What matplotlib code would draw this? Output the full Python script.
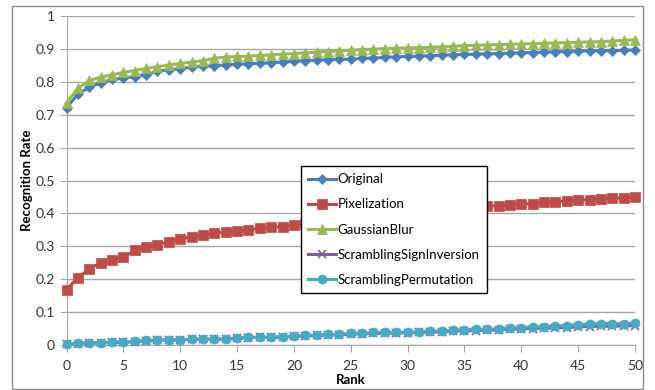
import matplotlib
matplotlib.use("Agg")
import matplotlib.pyplot as plt
from matplotlib.patches import Rectangle

plt.rcParams['font.family'] = ['Lato', 'DejaVu Sans']

rank = list(range(51))

original = [0.720, 0.763, 0.783, 0.797, 0.807, 0.811, 0.816, 0.821, 0.832, 0.837,
            0.839, 0.845, 0.847, 0.849, 0.851, 0.853, 0.855, 0.856, 0.858, 0.860,
            0.862, 0.864, 0.866, 0.867, 0.868, 0.869, 0.871, 0.872, 0.874, 0.876,
            0.877, 0.878, 0.879, 0.881, 0.882, 0.883, 0.884, 0.885, 0.886, 0.887,
            0.888, 0.889, 0.890, 0.891, 0.892, 0.893, 0.894, 0.894, 0.895, 0.896,
            0.897]
pixelization = [0.168, 0.205, 0.231, 0.250, 0.258, 0.266, 0.288, 0.297, 0.304, 0.314,
                0.322, 0.328, 0.335, 0.340, 0.343, 0.345, 0.350, 0.355, 0.358, 0.360,
                0.366, 0.369, 0.372, 0.375, 0.378, 0.381, 0.384, 0.387, 0.390, 0.393,
                0.396, 0.399, 0.402, 0.405, 0.409, 0.413, 0.417, 0.422, 0.424, 0.427,
                0.428, 0.430, 0.434, 0.436, 0.437, 0.440, 0.442, 0.444, 0.446, 0.448,
                0.450]
gaussian_blur = [0.736, 0.780, 0.804, 0.814, 0.821, 0.829, 0.834, 0.841, 0.846, 0.851,
                 0.856, 0.860, 0.864, 0.872, 0.875, 0.877, 0.878, 0.880, 0.882, 0.884,
                 0.886, 0.888, 0.890, 0.892, 0.894, 0.896, 0.898, 0.899, 0.901, 0.902,
                 0.903, 0.904, 0.905, 0.906, 0.908, 0.910, 0.911, 0.912, 0.913, 0.914,
                 0.915, 0.916, 0.917, 0.918, 0.919, 0.920, 0.921, 0.922, 0.924, 0.926,
                 0.928]
scrambling_permutation = [0.003, 0.005, 0.007, 0.007, 0.009, 0.009, 0.011, 0.014, 0.016, 0.016,
                          0.016, 0.018, 0.018, 0.018, 0.019, 0.022, 0.023, 0.024, 0.024, 0.025,
                          0.028, 0.029, 0.031, 0.032, 0.033, 0.035, 0.036, 0.038, 0.039, 0.039,
                          0.039, 0.040, 0.042, 0.043, 0.045, 0.047, 0.048, 0.048, 0.049, 0.052,
                          0.053, 0.055, 0.056, 0.058, 0.059, 0.062, 0.064, 0.065, 0.065, 0.065,
                          0.066]
scrambling_sign_inversion = [0.002, 0.004, 0.006, 0.006, 0.008, 0.008, 0.010, 0.012, 0.014, 0.015,
                             0.015, 0.017, 0.017, 0.017, 0.018, 0.020, 0.022, 0.023, 0.023, 0.024,
                             0.026, 0.027, 0.029, 0.030, 0.031, 0.033, 0.034, 0.035, 0.036, 0.036,
                             0.037, 0.038, 0.039, 0.040, 0.042, 0.043, 0.044, 0.045, 0.046, 0.048,
                             0.049, 0.050, 0.051, 0.052, 0.053, 0.055, 0.056, 0.057, 0.057, 0.058,
                             0.059]

W, H = 655, 390
fig = plt.figure(figsize=(W / 100, H / 100), dpi=100)
ax = fig.add_axes([66.5 / W, 1 - 345 / H, (635 - 66.5) / W, (345 - 16) / H])

# outer chart frame
fig.patches.append(Rectangle((12 / W, 1 / H), (643 - 12) / W, (384 - 1) / H,
                             transform=fig.transFigure, fill=False,
                             edgecolor='#8c8c8c', linewidth=1.0))

series = [
    ("Original", original, '#4a7ebb', 'D', 5),
    ("Pixelization", pixelization, '#be4b48', 's', 6.5),
    ("GaussianBlur", gaussian_blur, '#98b954', '^', 7),
    ("ScramblingSignInversion", scrambling_sign_inversion, '#7d60a0', 'x', 6),
    ("ScramblingPermutation", scrambling_permutation, '#46aac5', 'o', 6.5),
]
for name, vals, color, marker, ms in series:
    ax.plot(rank, vals, color=color, marker=marker, markersize=ms, linewidth=2.2,
            markeredgewidth=1.2 if marker == 'x' else 0.5, markeredgecolor=color,
            label=name, clip_on=False, zorder=3)

ax.set_xlim(0, 50)
ax.set_ylim(0, 1)
ax.set_xticks(range(0, 51, 5))
ax.set_yticks([i / 10 for i in range(11)])
ax.set_yticklabels(['0', '0.1', '0.2', '0.3', '0.4', '0.5', '0.6', '0.7', '0.8', '0.9', '1'])
ax.grid(axis='y', color='#a6a6a6', linewidth=1.0)
ax.set_axisbelow(True)
for side in ('top', 'right'):
    ax.spines[side].set_visible(False)
for side in ('left', 'bottom'):
    ax.spines[side].set_color('#a6a6a6')
ax.tick_params(axis='both', colors='#a6a6a6', length=5, labelcolor='#333333', labelsize=10)
ax.tick_params(axis='x', pad=6)

ax.set_xlabel("Rank", fontsize=9.5, fontweight='bold', labelpad=1)
ax.set_ylabel("Recognition Rate", fontsize=9.5, fontweight='bold', labelpad=2)

leg = ax.legend(loc='upper left', bbox_to_anchor=(301 / W, 1 - 166 / H),
                bbox_transform=fig.transFigure, fontsize=9.5, frameon=True,
                framealpha=1, fancybox=False, edgecolor='black', handlelength=2.1,
                borderpad=0.55, labelspacing=1.0, handletextpad=0.1, borderaxespad=0)
leg.get_frame().set_linewidth(1.0)
leg.set_zorder(5)

fig.savefig("out.png", dpi=100)
